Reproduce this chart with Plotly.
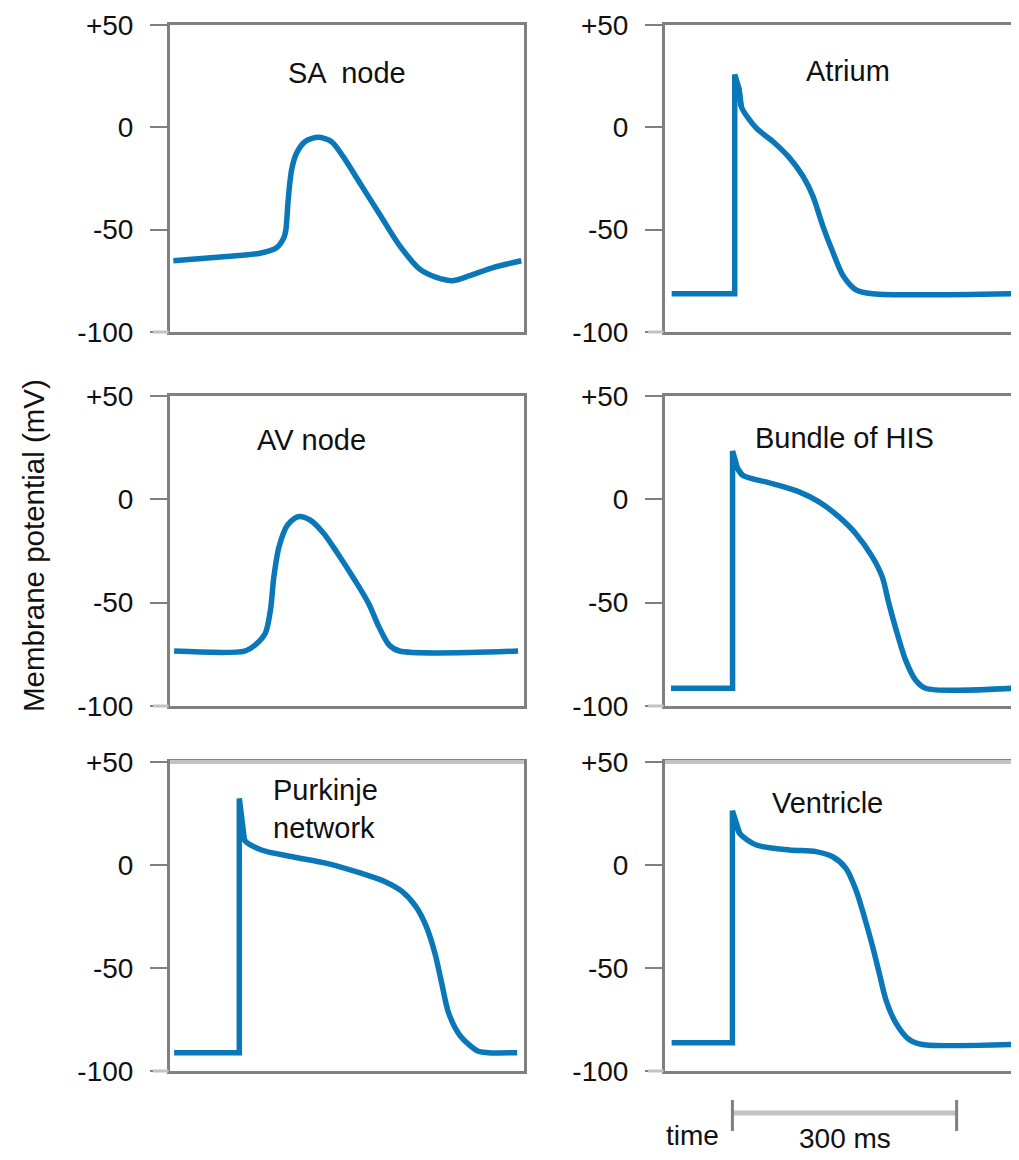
import plotly.graph_objects as go
from plotly.subplots import make_subplots

# ---------------- data (time in ms, membrane potential in mV) ----------------
sa_t = [4.5, 75.8, 120.4, 142.7, 152.5, 155.2, 158.3, 162.8, 169.4, 180.6, 198.4, 216.3,
        231.9, 254.2, 280.9, 307.7, 334.4, 356.7, 379.0, 401.3, 432.5, 470.4]
sa_v = [-65.2, -63.1, -61.5, -58.8, -53.9, -49.9, -35.3, -20.8, -12.7, -7.0, -4.9, -7.0,
        -14.3, -27.2, -42.6, -57.9, -69.3, -73.3, -74.9, -72.5, -68.5, -65.2]

atrium_t = [8.9, 93.3, 93.3, 99.1, 102.2, 122.2, 144.4, 166.6, 184.4, 197.7, 211.0, 224.4,
            237.7, 255.5, 277.7, 464.3]
atrium_v = [-81.3, -81.3, 25.8, 18.9, 10.0, -0.4, -6.9, -14.9, -23.8, -33.4, -48.0, -60.8,
            -72.1, -79.4, -81.3, -81.3]

av_t = [5.5, 100.0, 113.8, 127.6, 134.5, 139.1, 146.0, 157.5, 171.3, 187.5, 205.9, 224.3,
        247.3, 265.8, 279.6, 293.4, 307.2, 466.1]
av_v = [-73.4, -73.4, -70.5, -64.8, -53.6, -37.4, -22.9, -12.4, -8.4, -10.0, -16.5, -26.1,
        -39.0, -50.3, -61.6, -70.5, -73.4, -73.4]

his_t = [8.0, 90.4, 90.4, 97.1, 103.7, 143.8, 179.4, 206.1, 232.8, 255.1, 277.4, 290.7,
         299.6, 310.7, 321.9, 335.2, 348.6, 466.6]
his_v = [-91.4, -91.4, 23.4, 14.9, 11.7, 7.6, 3.6, -1.2, -8.5, -16.5, -27.8, -37.5,
         -50.4, -64.9, -77.8, -87.4, -91.4, -91.4]

purk_t = [5.5, 92.8, 92.8, 97.4, 99.7, 122.6, 164.0, 209.9, 255.8, 288.0, 311.0, 329.3,
          343.1, 354.6, 363.8, 373.0, 389.0, 412.0, 425.8, 464.8]
purk_v = [-91.1, -91.1, 32.3, 16.9, 12.1, 7.3, 4.0, 0.8, -4.0, -8.1, -12.9, -20.2,
          -29.8, -42.7, -57.3, -71.8, -83.1, -90.3, -91.1, -91.1]

vent_t = [8.9, 90.2, 90.2, 95.5, 100.0, 122.2, 166.6, 202.2, 224.4, 242.1, 255.5, 266.6,
          277.7, 286.6, 295.5, 308.8, 326.6, 344.3, 464.3]
vent_v = [-86.3, -86.3, 26.3, 19.4, 15.3, 9.7, 7.3, 6.5, 4.0, -1.6, -12.1, -25.0,
          -39.5, -52.4, -65.3, -76.6, -84.7, -87.1, -87.1]

panel_titles = ["SA  node", "Atrium", "AV node", "Bundle of HIS", "Purkinje<br>network", "Ventricle"]
tick_vals = [50, 0, -50, -100]
tick_text = ["+50", "0", "-50", "-100"]
y_title = "Membrane potential (mV)"
scale_ms = 300
scale_label = "300 ms"
time_label = "time"

# ---------------- style ----------------
BLUE = "#0a78b8"
GRAY = "#808080"
LIGHT = "#c3c3c3"
TXT = "#111111"
FONT = "Liberation Sans, Arial, Helvetica, sans-serif"
FS_TICK = 28
FS_TITLE = 29

# page body has an 8px margin; the figure is sized/positioned to compensate
OFF = 8
W, H = 1019 - OFF, 1160 - OFF


def px(x):
    return (x - OFF) / W


def py(y):
    return 1 - (y - OFF) / H


fig = make_subplots(rows=3, cols=2)

panels = [
    (sa_t, sa_v, False, 1, 1),
    (atrium_t, atrium_v, True, 1, 2),
    (av_t, av_v, False, 2, 1),
    (his_t, his_v, True, 2, 2),
    (purk_t, purk_v, True, 3, 1),
    (vent_t, vent_v, True, 3, 2),
]

line_kw = dict(color=BLUE, width=5.5)
for t, v, step, r, c in panels:
    if step:
        # baseline + fast upstroke + initial spike repolarisation (sharp corners)
        fig.add_trace(go.Scatter(x=t[:5], y=v[:5], mode="lines", line=dict(**line_kw, shape="linear"),
                                 showlegend=False, hoverinfo="skip"), row=r, col=c)
        fig.add_trace(go.Scatter(x=t[3:], y=v[3:], mode="lines",
                                 line=dict(**line_kw, shape="spline", smoothing=0.8),
                                 showlegend=False, hoverinfo="skip"), row=r, col=c)
    else:
        fig.add_trace(go.Scatter(x=t, y=v, mode="lines",
                                 line=dict(**line_kw, shape="spline", smoothing=0.8),
                                 showlegend=False, hoverinfo="skip"), row=r, col=c)

xdom = {1: [px(170), px(524)], 2: [px(665), px(1017)]}
ydom = {1: [py(332), py(25)], 2: [py(706), py(396)], 3: [py(1071), py(762)]}
xr = {1: [0, 474], 2: [0, 471]}

for r in (1, 2, 3):
    for c in (1, 2):
        fig.update_xaxes(row=r, col=c, domain=xdom[c], range=xr[c], showticklabels=False,
                         ticks="", showgrid=False, zeroline=False, showline=True, mirror=True,
                         linecolor=GRAY, linewidth=3, fixedrange=True, automargin=False)
        fig.update_yaxes(row=r, col=c, domain=ydom[r], range=[-100, 50], tickvals=tick_vals,
                         ticktext=tick_text, ticks="outside", ticklen=17, tickwidth=2,
                         tickcolor=GRAY, showgrid=False, zeroline=False, showline=True,
                         mirror=True, linecolor=GRAY, linewidth=3, ticklabelstandoff=11,
                         tickfont=dict(family=FONT, size=FS_TICK, color=TXT), fixedrange=True,
                         automargin=False)

axis_pairs = [("x", "y"), ("x2", "y2"), ("x3", "y3"), ("x4", "y4"), ("x5", "y5"), ("x6", "y6")]

# lighter top border on the bottom row
for xa, ya in axis_pairs[4:]:
    fig.add_shape(type="line", xref=f"{xa} domain", yref=f"{ya} domain", x0=0, x1=1, y0=1, y1=1,
                  line=dict(color=LIGHT, width=4))
# lighter -100 tick marks
for xa, ya in axis_pairs:
    fig.add_shape(type="line", xref=f"{xa} domain", yref=f"{ya} domain", x0=-17 / 353, x1=-1.5 / 353,
                  y0=0, y1=0, line=dict(color=LIGHT, width=3))

# panel titles
title_pos = [(0.50, 0.845), (0.52, 0.851), (0.40, 0.859), (0.511, 0.865), (0.44, 0.848), (0.463, 0.868)]
for (xa, ya), (tx, ty), txt in zip(axis_pairs, title_pos, panel_titles):
    fig.add_annotation(text=txt, xref=f"{xa} domain", yref=f"{ya} domain", x=tx, y=ty,
                       showarrow=False, xanchor="center", yanchor="middle", align="left",
                       font=dict(family=FONT, size=FS_TITLE, color=TXT))

# y-axis title
fig.add_annotation(text=y_title, xref="paper", yref="paper", x=px(33), y=py(546),
                   textangle=-90, showarrow=False, xanchor="center", yanchor="middle",
                   font=dict(family=FONT, size=29.5, color=TXT))

# time scale bar under the ventricle panel
t0 = vent_t[1]
fig.add_shape(type="line", xref="x6", yref="paper", x0=t0, x1=t0 + scale_ms, y0=py(1113), y1=py(1113),
              line=dict(color=LIGHT, width=5))
for xe in (t0, t0 + scale_ms):
    fig.add_shape(type="line", xref="x6", yref="paper", x0=xe, x1=xe,
                  y0=py(1100), y1=py(1131), line=dict(color=GRAY, width=3))
fig.add_annotation(text=time_label, xref="paper", yref="paper", x=px(692), y=py(1135),
                   showarrow=False, xanchor="center", yanchor="middle",
                   font=dict(family=FONT, size=FS_TICK, color=TXT))
fig.add_annotation(text=scale_label, xref="x6", yref="paper", x=t0 + scale_ms / 2, y=py(1138),
                   showarrow=False, xanchor="center", yanchor="middle",
                   font=dict(family=FONT, size=FS_TICK, color=TXT))

fig.update_layout(width=W, height=H, margin=dict(l=0, r=0, t=0, b=0, autoexpand=False),
                  paper_bgcolor="white", plot_bgcolor="white", showlegend=False)

fig.write_html("out.html")
